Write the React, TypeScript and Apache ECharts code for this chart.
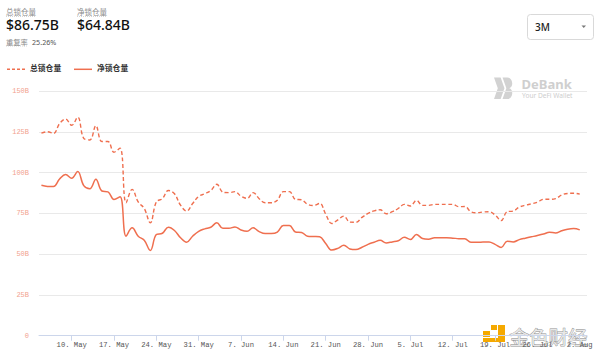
import React, { useEffect, useRef } from "react";
import * as echarts from "echarts";

// Daily values (billions USD), starting 5 May
const START = { year: 2021, month: 4, day: 5 };
const totalLocked = [
  124.2, 125, 124, 130, 132.8, 129, 133.9, 121, 120, 128.7,
  119, 119, 112.5, 115, 81.5, 89.7, 82, 78, 69.2, 82,
  84, 89, 87, 80, 76.4, 81, 85.4, 87, 89, 92.8,
  88, 87.7, 88.3, 85.5, 84.2, 87.7, 84, 81.5, 81.5, 83,
  88.3, 88.3, 83.6, 83.3, 80.5, 79.8, 81.1, 74.5, 68.8, 71,
  73.3, 69.6, 69.5, 72.5, 75, 76.5, 77.2, 74.8, 76, 78,
  80.5, 79.5, 82.9, 79.9, 79.9, 80.5, 80.5, 80.5, 80.5, 79.1,
  79.2, 76, 75.4, 75.8, 76, 74, 70.6, 76, 76.4, 78.8,
  80, 80.8, 81.8, 83.6, 83.6, 84, 86.2, 87.2, 87.3, 86.75,
];
const netLocked = [
  92.2, 91.5, 91.4, 96, 98.8, 96.5, 100.6, 92, 90.1, 95.9,
  88.7, 88.2, 83.5, 85.2, 61, 66.1, 61, 58.5, 52.3, 62,
  62.8, 66.5, 64.5, 60, 57.3, 61, 64, 65.5, 66.5, 69.2,
  65.8, 65.8, 66.7, 64.8, 64, 66.1, 63.8, 62.6, 62.6, 63.5,
  67.5, 67.5, 63.6, 63.3, 61, 60.8, 60.6, 56.5, 52.5, 53.5,
  55.4, 53.2, 52.8, 54.2, 56, 57.3, 58.5, 56.9, 57.5, 58.2,
  60.3, 59, 62, 59.6, 59.2, 60, 60, 60, 59.8, 59.5,
  59.4, 57.3, 57.3, 57.4, 57.5, 56, 54, 57.9, 57.5, 58.9,
  59.8, 60.6, 61.4, 62.3, 63.4, 63, 64.3, 65.3, 65.7, 64.84,
];
// x ticks: days after 10 May
const tickDays = [0, 7, 14, 21, 28, 35, 42, 49, 56, 63, 70, 77, 84];
const MONTHS = ["Jan", "Feb", "Mar", "Apr", "May", "Jun", "Jul", "Aug", "Sep", "Oct", "Nov", "Dec"];

const seriesNames = ["总锁仓量", "净锁仓量"];
const headerValues = ["$86.75B", "$64.84B"];
const dupRate = "25.26%";

const LINE = "#EF6F4F";
const REF = new Date(2021, 4, 10).getTime();
const DAY = 86400000;

function dayOffset(i: number) {
  const d = new Date(START.year, START.month, START.day + i).getTime();
  return Math.round((d - REF) / DAY);
}
function fmtDay(v: number) {
  const d = new Date(2021, 4, 10 + Math.round(v));
  return `${d.getDate()}. ${MONTHS[d.getMonth()]}`;
}

echarts.graphic.registerShape(
  "debankL",
  echarts.graphic.extendPath(
    "M0 0 L7 0 L11 11 L7 22 L0 22 L4 11 Z M9 0 L14 0 C20 0 21 10 16 11 C21 12 20 22 14 22 L9 22 L13 11 Z",
    {}
  )
);

export default function App() {
  const ref = useRef<HTMLDivElement>(null);
  useEffect(() => {
    if (!ref.current) return;
    const chart = echarts.init(ref.current, null, { renderer: "svg" });
    const totalData = totalLocked.map((v, i) => [dayOffset(i), v]);
    const netData = netLocked.map((v, i) => [dayOffset(i), v]);
    const sans = "'Noto Sans', 'Noto Sans CJK SC', sans-serif";
    const mono = "'Liberation Mono', monospace";
    chart.setOption({
      animation: false,
      backgroundColor: "#ffffff",
      grid: { left: 39, right: 13, top: 91, bottom: 22.3, containLabel: false },
      xAxis: {
        type: "value",
        min: -5.4,
        max: 85.2,
        axisLine: { show: true, lineStyle: { color: "#ccd6eb", width: 1 } },
        axisTick: { show: true, customValues: tickDays, length: 5, lineStyle: { color: "#ccd6eb" } },
        axisLabel: {
          customValues: tickDays,
          formatter: (v: number) => fmtDay(v),
          fontFamily: mono,
          fontSize: 7.2,
          color: "#555",
          margin: 6,
        },
        splitLine: { show: false },
      },
      yAxis: {
        type: "value",
        min: 0,
        max: 150,
        interval: 25,
        axisLine: { show: false },
        axisTick: { show: false },
        axisLabel: {
          formatter: (v: number) => (v === 0 ? "0" : v + "B"),
          fontFamily: mono,
          fontSize: 7,
          color: "#f2a28e",
          margin: 10,
        },
        splitLine: { lineStyle: { color: "#e9e9e9", width: 1 } },
      },
      series: [
        {
          name: seriesNames[0],
          type: "line",
          data: totalData,
          smooth: 0.4,
          symbol: "none",
          lineStyle: { color: LINE, width: 1.4, type: [4, 2.5] },
          z: 3,
        },
        {
          name: seriesNames[1],
          type: "line",
          data: netData,
          smooth: 0.4,
          symbol: "none",
          lineStyle: { color: LINE, width: 1.5 },
          z: 3,
        },
      ],
      graphic: [
        // header
        { type: "text", left: 6, top: 7.5, style: { text: seriesNames[0], fontFamily: sans, fontSize: 7.5, lineHeight: 8, fill: "#8a8a8a" } },
        { type: "line", shape: { x1: 6, y1: 16.5, x2: 36, y2: 16.5 }, style: { stroke: "#bbb", lineWidth: 0.6, lineDash: [1, 1] } },
        { type: "text", left: 6, top: 17, style: { text: headerValues[0], fontFamily: sans, fontSize: 14, lineHeight: 15, fontWeight: 500, fill: "#111" } },
        { type: "text", left: 77, top: 7.5, style: { text: seriesNames[1], fontFamily: sans, fontSize: 7.5, lineHeight: 8, fill: "#8a8a8a" } },
        { type: "line", shape: { x1: 77, y1: 16.5, x2: 107, y2: 16.5 }, style: { stroke: "#bbb", lineWidth: 0.6, lineDash: [1, 1] } },
        { type: "text", left: 77, top: 17, style: { text: headerValues[1], fontFamily: sans, fontSize: 14, lineHeight: 15, fontWeight: 500, fill: "#111" } },
        { type: "text", left: 6, top: 37.5, style: { text: "重复率", fontFamily: sans, fontSize: 7.3, lineHeight: 8, fill: "#8a8a8a" } },
        { type: "line", shape: { x1: 6, y1: 46, x2: 28, y2: 46 }, style: { stroke: "#bbb", lineWidth: 0.6, lineDash: [1, 1] } },
        { type: "text", left: 32, top: 38, style: { text: dupRate, fontFamily: sans, fontSize: 7.2, lineHeight: 8, fill: "#555" } },
        // legend
        { type: "line", shape: { x1: 7, y1: 69.3, x2: 25, y2: 69.3 }, style: { stroke: LINE, lineWidth: 1.5, lineDash: [3, 2] } },
        { type: "text", left: 30, top: 64.5, style: { text: seriesNames[0], fontFamily: sans, fontSize: 7.8, fontWeight: 600, fill: "#333" } },
        { type: "line", shape: { x1: 74, y1: 69.3, x2: 92, y2: 69.3 }, style: { stroke: LINE, lineWidth: 1.5 } },
        { type: "text", left: 97, top: 64.5, style: { text: seriesNames[1], fontFamily: sans, fontSize: 7.8, fontWeight: 600, fill: "#333" } },
        // dropdown
        { type: "rect", shape: { x: 527.5, y: 14.5, width: 66, height: 25, r: 3 }, style: { fill: "#fff", stroke: "#d9d9d9", lineWidth: 1 } },
        { type: "text", left: 535, top: 22, style: { text: "3M", fontFamily: sans, fontSize: 10, fontWeight: 500, fill: "#222" } },
        { type: "polygon", shape: { points: [[581.5, 25.5], [586, 25.5], [583.75, 28]] }, style: { fill: "#777" } },
        // DeBank watermark
        { type: "debankL", x: 494, y: 77.5, scaleX: 0.95, scaleY: 0.98, style: { fill: "#d2d2d2" } },
        { type: "text", left: 521.5, top: 76.5, style: { text: "DeBank", fontFamily: sans, fontSize: 13, fontWeight: 700, fill: "#cfcfcf", lineHeight: 14 } },
        { type: "text", left: 522, top: 92, style: { text: "Your DeFi Wallet", fontFamily: sans, fontSize: 6.6, fill: "#cdcdcd", lineHeight: 7 } },
        // Jinse watermark
        { type: "rect", shape: { x: 483, y: 331, width: 7, height: 6 }, style: { fill: "#f5a900" } },
        { type: "rect", shape: { x: 498, y: 325, width: 7, height: 17 }, style: { fill: "#f5a900" } },
        { type: "rect", shape: { x: 483, y: 338, width: 22, height: 4 }, style: { fill: "#f5a900" } },
        { type: "rect", shape: { x: 491, y: 325, width: 6, height: 5 }, style: { fill: "#f5a900" } },
        { type: "text", left: 509, top: 326, style: { text: "金色财经", fontFamily: "'Noto Sans CJK SC', sans-serif", fontSize: 19.5, fontWeight: 400, fill: "#e8e8e8", stroke: "#8f8f8f", lineWidth: 0.8 } },
      ],
    });
    return () => chart.dispose();
  }, []);
  return (
    <div
      ref={ref}
      style={{ position: "fixed", left: 0, top: 0, width: 600, height: 358, background: "#fff" }}
    />
  );
}
